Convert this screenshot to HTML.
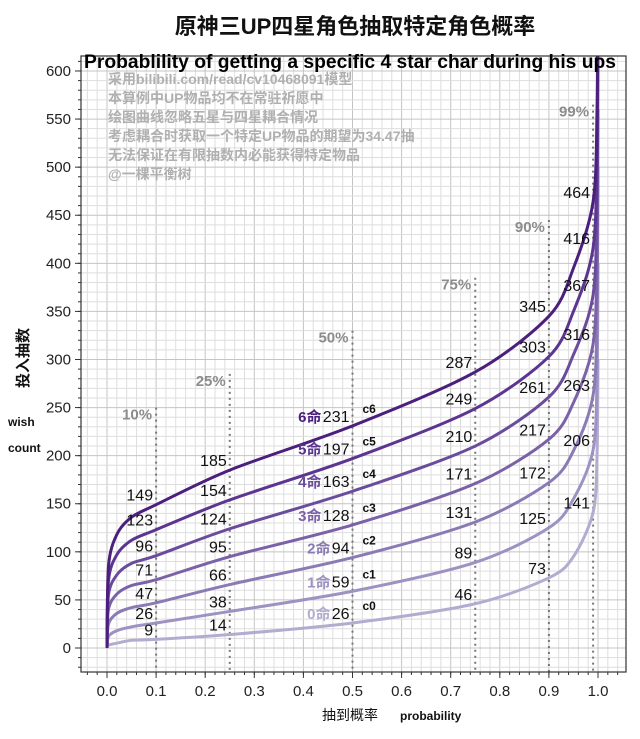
<!DOCTYPE html>
<html><head><meta charset="utf-8"><style>
body{margin:0;background:#fff;width:640px;height:739px;overflow:hidden;font-family:"Liberation Sans","Noto Sans CJK SC",sans-serif}
svg{display:block}
</style></head><body>
<svg id="chart" width="640" height="739"></svg>
<script>
const probs=[0,0.003,0.02,0.05,0.1,0.25,0.5,0.75,0.9,0.95,0.99,0.998,1.0];
const c0=[0,3,5,8,9,14,26,46,73,95,141,200,300];
const c1=[0,12,18,22,26,38,59,89,125,155,206,280,400];
const c2=[0,25,36,42,47,66,94,131,172,205,263,350,500];
const c3=[0,40,56,65,71,95,128,171,217,255,316,410,560];
const c4=[0,55,76,88,96,124,163,210,261,305,367,470,620];
const c5=[0,70,97,112,123,154,197,249,303,350,416,520,680];
const c6=[0,85,118,136,149,185,231,287,345,395,464,560,720];
const series=[c0,c1,c2,c3,c4,c5,c6];
const colors=["#b3abd0","#9e92c3","#8b7bb5","#7b62a8","#6a4b9c","#5b3590","#4b1f7c"];
const labelProbs=[0.1,0.25,0.5,0.75,0.9,0.99];
const pctLabels=["10%","25%","50%","75%","90%","99%"];
const pctTops=[250,285,330,385,445,565];
const xTicks=[0,0.1,0.2,0.3,0.4,0.5,0.6,0.7,0.8,0.9,1.0];
const yTicks=[0,50,100,150,200,250,300,350,400,450,500,550,600];

const NS="http://www.w3.org/2000/svg";
const svg=document.getElementById('chart');
const L=81,R=626,T=56,B=672;
const xs=p=>107+p*491, ys=v=>648-v*0.9617;
function mk(tag,attrs,parent){const e=document.createElementNS(NS,tag);for(const k in attrs)e.setAttribute(k,attrs[k]);(parent||svg).appendChild(e);return e;}
function txt(s,x,y,attrs){const e=mk('text',Object.assign({x:x,y:y},attrs));e.textContent=s;return e;}

const defs=mk('defs',{});const cp=mk('clipPath',{id:'pc'},defs);mk('rect',{x:L,y:T,width:R-L,height:B-T},cp);

const grid=mk('g',{});


for(let i=-3;i<=53;i++){const p=i*0.02;const x=xs(p);if(x<L||x>R)continue;
 mk('line',{x1:x,x2:x,y1:T,y2:B,stroke:i%5==0?'#c4c4c4':'#dedede','stroke-width':1},grid);}
for(let v=-20;v<=620;v+=10){const y=ys(v);if(y<T||y>B)continue;
 mk('line',{x1:L,x2:R,y1:y,y2:y,stroke:v%50==0?'#c4c4c4':'#dedede','stroke-width':1},grid);}

labelProbs.forEach((p,i)=>{
 const l=mk('line',{x1:xs(p),x2:xs(p),y1:ys(pctTops[i]),y2:B,stroke:'#777','stroke-width':2,'stroke-dasharray':'2,4'});
 
 
 const t=txt(pctLabels[i],xs(p)-4,ys(pctTops[i])+12,{'font-size':15,'font-weight':'bold',fill:'#8c8c8c','text-anchor':'end'});
 
 
});

function pathFor(vals){
 const pts=probs.map((p,i)=>[xs(p),ys(vals[i])]);
 let d='M'+pts[0][0]+','+pts[0][1];
 for(let i=0;i<pts.length-1;i++){
  const p0=pts[Math.max(0,i-1)],p1=pts[i],p2=pts[i+1],p3=pts[Math.min(pts.length-1,i+2)];
  const t=0.15;
  let c1x=p1[0]+(p2[0]-p0[0])*t,c1y=p1[1]+(p2[1]-p0[1])*t,c2x=p2[0]-(p3[0]-p1[0])*t,c2y=p2[1]-(p3[1]-p1[1])*t;
  c1x=Math.min(Math.max(c1x,p1[0]),p2[0]);c2x=Math.min(Math.max(c2x,p1[0]),p2[0]);
  d+=' C'+c1x+','+c1y+' '+c2x+','+c2y+' '+p2[0]+','+p2[1];
 }
 return d;
}
const cg=mk('g',{'clip-path':'url(#pc)'});
series.forEach((s,k)=>{
 const path=mk('path',{d:pathFor(s),fill:'none',stroke:colors[k],'stroke-width':3},cg);
 
 
});

series.forEach((s,k)=>{
 labelProbs.forEach(p=>{
  const i=probs.indexOf(p);const v=s[i];
  const t=txt(String(v),xs(p)-3,ys(v)-4,{'font-size':16,fill:'#111','text-anchor':'end'});
  
  
  if(p===0.5){
   const tw=String(v).length*9;
   const m=txt(k+'命',xs(p)-3-tw-1,ys(v)-4,{'font-size':15,'font-weight':'bold',fill:colors[k],'text-anchor':'end'});
   
   
   const c=txt('c'+k,xs(p)+10,ys(v)-13,{'font-size':12,'font-weight':'bold',fill:'#111'});
   
   
  }
 });
});

const fr=mk('rect',{x:L,y:T,width:R-L,height:B-T,fill:'none',stroke:'#333','stroke-width':1.2});



xTicks.forEach(p=>{mk('line',{x1:xs(p),x2:xs(p),y1:B,y2:B+6,stroke:'#333'});
 const t=txt(p.toFixed(1),xs(p),B+24,{'font-size':15,fill:'#222','text-anchor':'middle'});
 });
for(let i=-2;i<=52;i++){const x=xs(i*0.02);if(x<L||x>R)continue;mk('line',{x1:x,x2:x,y1:B,y2:B+3,stroke:'#333'});}
yTicks.forEach(v=>{mk('line',{x1:L-6,x2:L,y1:ys(v),y2:ys(v),stroke:'#333'});
 const t=txt(String(v),L-10,ys(v)+5,{'font-size':15,fill:'#222','text-anchor':'end'});
 });
for(let v=-20;v<=620;v+=10){const y=ys(v);if(y<T||y>B)continue;mk('line',{x1:L-3,x2:L,y1:y,y2:y,stroke:'#333'});}

let t;
t=txt('原神三UP四星角色抽取特定角色概率',355,34,{'font-size':22,'font-weight':'bold',fill:'#111','text-anchor':'middle'});

t=txt('Probablility of getting a specific 4 star char during his ups',350,68,{'font-size':19,'font-weight':'bold',fill:'#000','text-anchor':'middle',textLength:532,lengthAdjust:'spacingAndGlyphs'});

const notes=['采用bilibili.com/read/cv10468091模型','本算例中UP物品均不在常驻祈愿中','绘图曲线忽略五星与四星耦合情况','考虑耦合时获取一个特定UP物品的期望为34.47抽','无法保证在有限抽数内必能获得特定物品','@一棵平衡树'];
notes.forEach((s,i)=>{const e=txt(s,108,84+i*19,{'font-size':14,'font-weight':'bold',fill:'#b0b0b0'});
 });
t=txt('投入抽数',0,0,{'font-size':15,'font-weight':'bold',fill:'#111','text-anchor':'middle',transform:'translate(28,358) rotate(-90)'});

t=txt('wish',8,426,{'font-size':12,'font-weight':'bold',fill:'#111'});

t=txt('count',8,452,{'font-size':12,'font-weight':'bold',fill:'#111'});

t=txt('抽到概率',322,720,{'font-size':14,fill:'#111'});

t=txt('probability',400,720,{'font-size':12,'font-weight':'bold',fill:'#111'});

</script>
</body></html>
